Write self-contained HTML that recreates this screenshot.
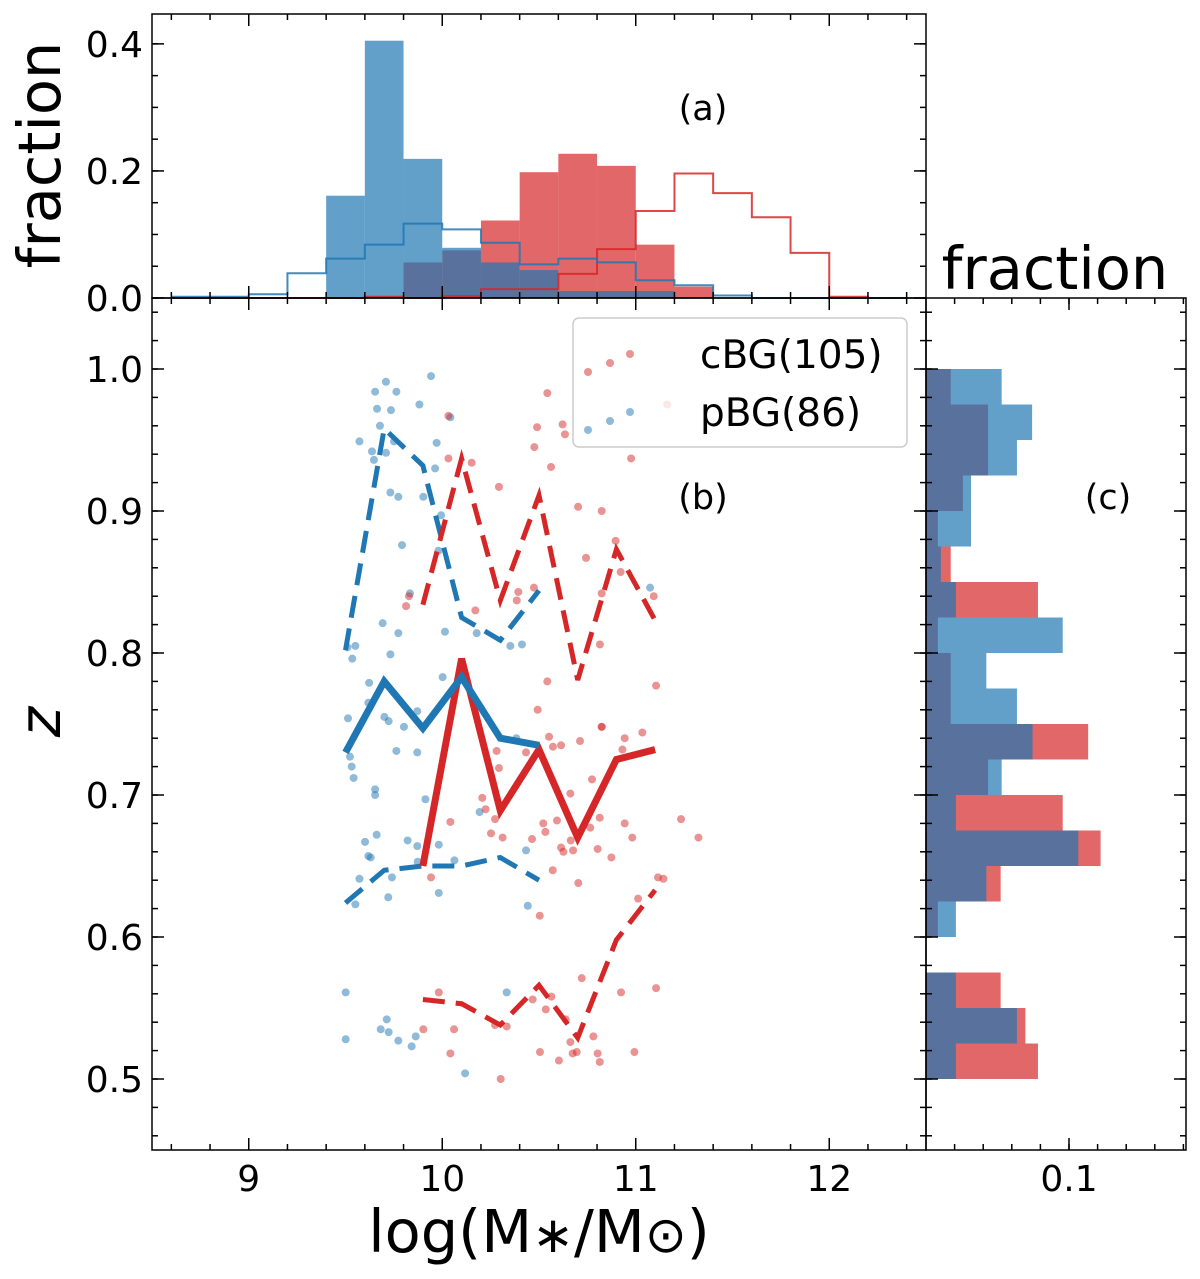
<!DOCTYPE html>
<html><head><meta charset="utf-8"><style>
html,body{margin:0;padding:0;background:#fff;}
svg{display:block;font-family:"DejaVu Sans","Liberation Sans",sans-serif;}
</style></head><body>
<svg id="chart" width="1200" height="1279" viewBox="0 0 1200 1279">
<rect x="0" y="0" width="1200" height="1279" fill="#fff"/>
<g id="gTop"></g>
<g id="gMain"></g>
<g id="gRight"></g>
<g id="gAxes"></g>
<text x="44" y="155" font-size="59" text-anchor="middle" transform="rotate(-90 44 155)" dominant-baseline="middle">fraction</text>
<text x="1055" y="289" font-size="59" text-anchor="middle">fraction</text>
<text x="44" y="722" font-size="58" text-anchor="middle" font-style="italic" transform="rotate(-90 44 722)" dominant-baseline="middle">z</text>
<text x="539" y="1252" font-size="59" text-anchor="middle">log(M<tspan font-size="50">∗</tspan>/M<tspan font-size="50">⊙</tspan>)</text>
<text x="703" y="120" font-size="35" text-anchor="middle">(a)</text>
<text x="703" y="509" font-size="35" text-anchor="middle">(b)</text>
<text x="1108" y="509" font-size="35" text-anchor="middle">(c)</text>
<g id="gLegend"></g>
</svg>
<script>
// ---- data ----
const massBinEdgeStart = 8.6;
const massBinWidth = 0.2;
const cbgMassFilled = [0,0,0,0,0,0.002,0.056,0.075,0.122,0.198,0.227,0.208,0.084,0.018,0,0,0,0,0];
const pbgMassFilled = [0,0,0,0,0.161,0.405,0.219,0.079,0.056,0.044,0.011,0.011,0.011,0,0,0,0,0,0];
const cbgMassStep = [0,0,0,0,0,0.002,0,0.003,0.014,0.014,0.038,0.077,0.137,0.196,0.165,0.127,0.071,0.002,0];
const pbgMassStep = [0.002,0.002,0.006,0.039,0.062,0.084,0.117,0.108,0.087,0.053,0.062,0.056,0.028,0.020,0.004,0,0,0,0];
const zBinStart = 0.5;
const zBinWidth = 0.025;
// bins from 0.500 upwards
const cbgZFrac = [0.0783,0.0695,0.0522,0,0.0083,0.0522,0.1221,0.0956,0.0434,0.1134,0.0173,0.0173,0.0083,0.0783,0.0173,0.0083,0.0258,0.0434,0.0434,0.0173];
const pbgZFrac = [0.0209,0.0636,0.0209,0,0.0209,0.0422,0.1065,0.0209,0.0529,0.0745,0.0636,0.0422,0.0956,0.0209,0.0104,0.0315,0.0315,0.0636,0.0742,0.0529];
const lineMass = [9.5,9.7,9.9,10.1,10.3,10.5];
const pbgMedian = [0.730,0.780,0.747,0.783,0.740,0.735];
const pbgUpper = [0.802,0.958,0.932,0.825,0.809,0.844];
const pbgLower = [0.624,0.647,0.650,0.650,0.656,0.640];
const cbgLineMass = [9.9,10.1,10.3,10.5,10.7,10.9,11.1];
const cbgMedian = [0.650,0.796,0.689,0.732,0.670,0.725,0.732];
const cbgUpper = [0.834,0.937,0.837,0.911,0.781,0.873,0.823];
const cbgLower = [0.556,0.553,0.538,0.566,0.529,0.598,0.633];
const pbgPoints = [[9.709,0.991],[9.653,0.984],[9.763,0.984],[9.942,0.995],[9.882,0.975],[9.663,0.972],[9.735,0.971],[10.042,0.966],[9.678,0.960],[9.572,0.949],[9.637,0.942],[9.709,0.941],[9.647,0.936],[9.751,0.949],[9.971,0.948],[9.963,0.930],[9.732,0.913],[9.773,0.910],[9.902,0.910],[9.994,0.897],[9.792,0.876],[9.980,0.872],[9.833,0.842],[9.692,0.821],[9.773,0.814],[10.014,0.815],[10.178,0.814],[9.510,0.804],[9.551,0.805],[9.535,0.796],[9.732,0.799],[10.352,0.805],[10.412,0.806],[11.074,0.846],[10.002,0.783],[9.622,0.779],[9.618,0.765],[9.701,0.755],[9.723,0.752],[9.871,0.759],[9.513,0.754],[9.523,0.727],[9.532,0.720],[9.542,0.712],[9.653,0.704],[9.653,0.700],[9.763,0.731],[9.871,0.730],[9.802,0.748],[9.913,0.697],[10.193,0.688],[9.661,0.672],[9.601,0.667],[9.618,0.657],[9.630,0.656],[9.821,0.668],[9.871,0.664],[9.982,0.665],[10.063,0.654],[9.873,0.653],[9.572,0.641],[9.740,0.642],[9.721,0.628],[9.551,0.623],[9.982,0.631],[10.442,0.622],[10.433,0.661],[9.501,0.561],[9.501,0.528],[9.713,0.542],[9.682,0.535],[9.723,0.533],[9.773,0.527],[9.842,0.523],[9.863,0.530],[10.118,0.504],[10.333,0.561],[10.383,0.740]];
const cbgPoints = [[10.543,0.983],[10.032,0.967],[10.490,0.959],[10.622,0.961],[10.634,0.954],[10.476,0.945],[10.032,0.937],[10.152,0.934],[10.562,0.931],[10.293,0.917],[10.702,0.903],[10.824,0.900],[10.976,0.937],[10.896,0.879],[10.743,0.867],[10.922,0.857],[10.824,0.842],[11.093,0.840],[10.474,0.846],[10.393,0.843],[10.385,0.837],[10.171,0.830],[9.828,0.840],[9.813,0.833],[10.815,0.806],[10.543,0.780],[11.105,0.777],[10.493,0.760],[10.824,0.748],[10.824,0.748],[10.552,0.741],[10.943,0.740],[11.034,0.744],[10.712,0.738],[10.572,0.734],[10.614,0.735],[10.931,0.732],[10.281,0.731],[10.433,0.730],[10.293,0.719],[10.774,0.711],[10.662,0.701],[10.207,0.698],[10.224,0.690],[10.273,0.683],[10.042,0.681],[10.252,0.673],[10.312,0.670],[10.522,0.680],[10.593,0.682],[10.533,0.674],[10.464,0.669],[10.664,0.668],[10.614,0.663],[10.626,0.660],[10.676,0.661],[10.803,0.662],[10.765,0.677],[10.814,0.684],[10.943,0.680],[10.982,0.670],[10.874,0.656],[11.234,0.683],[11.324,0.670],[10.571,0.647],[10.703,0.638],[9.942,0.642],[10.504,0.615],[11.012,0.627],[11.115,0.642],[11.143,0.641],[10.721,0.571],[10.924,0.561],[11.105,0.564],[9.982,0.561],[10.467,0.556],[10.564,0.558],[10.535,0.549],[10.638,0.542],[9.902,0.535],[10.061,0.535],[10.333,0.537],[10.273,0.538],[10.042,0.518],[10.505,0.519],[10.662,0.526],[10.781,0.530],[10.674,0.518],[10.695,0.519],[10.803,0.518],[10.814,0.512],[10.993,0.519],[10.603,0.513],[10.302,0.500],[11.162,0.975]];
const massTicks = [9,10,11,12];
const zTicks = [0.5,0.6,0.7,0.8,0.9,1.0];
const topFracTicks = [0.0,0.2,0.4];
const rightFracTicks = [0.1];

// ---- layout ----
const L=152,R=926,TT=14,MT=298,MB=1150,RR=1186;
const NS='http://www.w3.org/2000/svg';
const xM = m => L + (m-8.5)/(12.5-8.5)*(R-L);
const yZ = z => MT + (1.05-z)/(1.05-0.45)*(MB-MT);
const yF = f => MT - f/0.447*(MT-TT);
const xF = f => R + f/0.1*(1069-R);
const RED='#d62728', BLUE='#1f77b4';
function el(tag, attrs, parent){const e=document.createElementNS(NS,tag);for(const k in attrs)e.setAttribute(k,attrs[k]);parent.appendChild(e);return e;}
const gTop=document.getElementById('gTop'),gMain=document.getElementById('gMain'),gRight=document.getElementById('gRight'),gAxes=document.getElementById('gAxes'),gLeg=document.getElementById('gLegend');

[[cbgMassFilled,RED,'cbg'],[pbgMassFilled,BLUE,'pbg']].forEach(([arr,c,n])=>{
  arr.forEach((v,i)=>{ if(v<=0) return;
    const x0=xM(massBinEdgeStart+i*massBinWidth), x1=xM(massBinEdgeStart+(i+1)*massBinWidth);
    const r=el('rect',{x:x0,y:yF(v),width:x1-x0,height:MT-yF(v),fill:c,'fill-opacity':0.7},gTop);
    
    
  });
});
[[cbgMassStep,RED,'cbg'],[pbgMassStep,BLUE,'pbg']].forEach(([arr,c,n])=>{
  let d='';
  arr.forEach((v,i)=>{const x0=xM(massBinEdgeStart+i*massBinWidth),x1=xM(massBinEdgeStart+(i+1)*massBinWidth);
    d+=(i===0?'M':'L')+x0+','+yF(v)+'L'+x1+','+yF(v);});
  const p=el('path',{d:d,fill:'none',stroke:c,'stroke-width':2,'stroke-opacity':0.85},gTop);
  
  
});
[[cbgZFrac,RED,'cbg'],[pbgZFrac,BLUE,'pbg']].forEach(([arr,c,n])=>{
  arr.forEach((v,i)=>{ if(v<=0) return;
    const y0=yZ(zBinStart+(i+1)*zBinWidth), y1=yZ(zBinStart+i*zBinWidth);
    const r=el('rect',{x:R,y:y0,width:xF(v)-R,height:y1-y0,fill:c,'fill-opacity':0.7},gRight);
    
    
  });
});
[[pbgPoints,BLUE,'pbg'],[cbgPoints,RED,'cbg']].forEach(([pts,c,n])=>{
  pts.forEach(p=>{
    const ci=el('circle',{cx:xM(p[0]),cy:yZ(p[1]),r:4,fill:c,'fill-opacity':0.5},gMain);
    
    
  });
});
function line(xs,ys,c,w,dash,name){
  const d=xs.map((x,i)=>(i?'L':'M')+xM(x)+','+yZ(ys[i])).join('');
  const a={d:d,fill:'none',stroke:c,'stroke-width':w,'stroke-linejoin':'miter'};
  if(dash)a['stroke-dasharray']=dash;
  const p=el('path',a,gMain);
  
  
}
line(lineMass,pbgUpper,BLUE,5,'22,11','pbg-upper-line');
line(lineMass,pbgLower,BLUE,5,'22,11','pbg-lower-line');
line(cbgLineMass,cbgUpper,RED,5,'22,11','cbg-upper-line');
line(cbgLineMass,cbgLower,RED,5,'22,11','cbg-lower-line');
line(cbgLineMass,cbgMedian,RED,7,null,'cbg-median-line');
line(lineMass,pbgMedian,BLUE,7,null,'pbg-median-line');

const lb=el('rect',{x:573,y:318,width:334,height:129,rx:6,fill:'#fff','fill-opacity':0.8,stroke:'#ccc','stroke-width':1.5},gLeg);


[[RED,'cBG(105)',368,'legend-entry-cbg'],[BLUE,'pBG(86)',426,'legend-entry-pbg']].forEach(([c,t,y,n])=>{
  [[588,4],[610,-5],[630,-14]].forEach(([x,dy])=>{
    const ci=el('circle',{cx:x,cy:y+dy,r:4,fill:c,'fill-opacity':0.5},gLeg);
    
    
  });
  const tx=el('text',{x:700,y:y,'font-size':39},gLeg);tx.textContent=t;
  
  
});

[[L,TT,R-L,MT-TT],[L,MT,R-L,MB-MT],[R,MT,RR-R,MB-MT]].forEach(b=>{
  const r=el('rect',{x:b[0],y:b[1],width:b[2],height:b[3],fill:'none',stroke:'#000','stroke-width':1.5},gAxes);
  
  
});
function tk(x1,y1,x2,y2){el('line',{x1,y1,x2,y2,stroke:'#000','stroke-width':1.5},gAxes);}
for(let k=0;k<=19;k++){const m=8.6+k*0.2;const x=xM(m);
  tk(x,TT,x,TT+6);tk(x,MT,x,MT-6);tk(x,MT,x,MT+6);tk(x,MB,x,MB-6);}
massTicks.forEach(m=>{const x=xM(m);tk(x,TT,x,TT+12);tk(x,MT,x,MT-12);tk(x,MT,x,MT+12);tk(x,MB,x,MB-12);
  const t=el('text',{x:x,y:MB+41,'font-size':36,'text-anchor':'middle'},gAxes);t.textContent=String(m);
  
  });
for(let k=0;k<=8;k++){const y=yF(k*0.05);tk(L,y,L+6,y);tk(R,y,R-6,y);}
topFracTicks.forEach(f=>{const y=yF(f);tk(L,y,L+12,y);tk(R,y,R-12,y);
  const t=el('text',{x:L-9,y:y+13,'font-size':36,'text-anchor':'end'},gAxes);t.textContent=f.toFixed(1);
  
  });
for(let k=0;k<=30;k++){const z=0.46+k*0.02;if(z>1.05)break;const y=yZ(z);
  tk(L,y,L+6,y);tk(R,y,R-6,y);tk(R,y,R+6,y);tk(RR,y,RR-6,y);}
zTicks.forEach(z=>{const y=yZ(z);tk(L,y,L+12,y);tk(R,y,R-12,y);tk(R,y,R+12,y);tk(RR,y,RR-12,y);
  const t=el('text',{x:L-9,y:y+13,'font-size':36,'text-anchor':'end'},gAxes);t.textContent=z.toFixed(1);
  
  });
for(let k=1;k<=9;k++){const x=xF(k*0.02);if(x>RR)break;tk(x,MT,x,MT+6);tk(x,MB,x,MB-6);}
rightFracTicks.forEach(f=>{const x=xF(f);tk(x,MT,x,MT+12);tk(x,MB,x,MB-12);
  const t=el('text',{x:x,y:MB+41,'font-size':36,'text-anchor':'middle'},gAxes);t.textContent=f.toFixed(1);
  
  });
</script>
</body></html>
